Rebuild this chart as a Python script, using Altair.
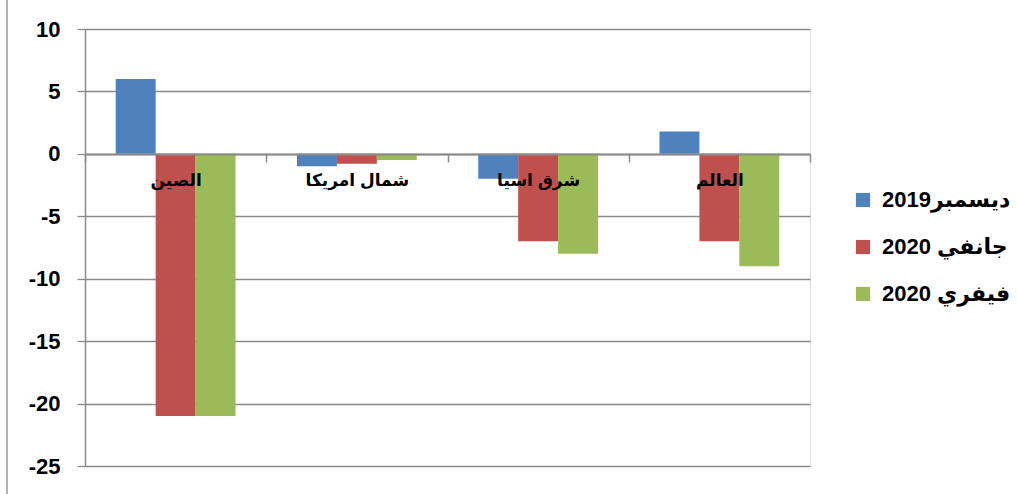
import altair as alt
import pandas as pd

categories = ["الصين", "شمال امريكا", "شرق اسيا", "العالم"]
series = ["ديسمبر2019", "جانفي 2020", "فيفري 2020"]
colors = ["#4F81BD", "#C0504D", "#9BBB59"]
dec2019 = [6.0, -1.0, -2.0, 1.8]
jan2020 = [-21.0, -0.8, -7.0, -7.0]
feb2020 = [-21.0, -0.5, -8.0, -9.0]
y_ticks = [-25, -20, -15, -10, -5, 0, 5, 10]

rows = []
for s, vals in zip(series, [dec2019, jan2020, feb2020]):
    for c, v in zip(categories, vals):
        rows.append({"cat": c, "series": s, "value": v})
df = pd.DataFrame(rows)

FONT = "Arial, Liberation Sans, DejaVu Sans"
GRID = "#8a8a8a"

bars = alt.Chart(df).mark_bar().encode(
    x=alt.X(
        "cat:N",
        sort=categories,
        scale=alt.Scale(paddingInner=0, paddingOuter=0),
        axis=alt.Axis(
            title=None,
            orient="bottom",
            offset=-312,
            labelAngle=0,
            tickBand="extent",
            tickSize=8,
            tickColor=GRID,
            tickWidth=1.5,
            domainColor=GRID,
            domainWidth=2,
            labelFont=FONT,
            labelFontSize=17,
            labelFontWeight=700,
            labelColor="black",
            labelPadding=10,
            zindex=1,
        ),
    ),
    xOffset=alt.XOffset(
        "series:N", sort=series, scale=alt.Scale(paddingInner=0, paddingOuter=0.77)
    ),
    y=alt.Y(
        "value:Q",
        scale=alt.Scale(domain=[-25, 10], nice=False, zero=False),
        axis=alt.Axis(
            title=None,
            values=y_ticks,
            labelExpr="'' + datum.value",
            grid=True,
            gridColor=GRID,
            gridWidth=1.3,
            tickSize=8,
            tickColor=GRID,
            tickWidth=1.3,
            domainColor=GRID,
            domainWidth=1.5,
            labelFont=FONT,
            labelFontSize=22,
            labelFontWeight=700,
            labelColor="black",
            labelPadding=17,
        ),
    ),
    color=alt.Color(
        "series:N",
        sort=series,
        scale=alt.Scale(domain=series, range=colors),
        legend=alt.Legend(
            title=None,
            orient="none",
            legendX=767,
            legendY=160,
            symbolType="square",
            symbolSize=200,
            symbolStrokeWidth=0,
            labelFont=FONT,
            labelFontSize=22,
            labelFontWeight=700,
            labelColor="black",
            labelOffset=8,
            rowPadding=25,
            labelLimit=300,
        ),
    ),
)

border = alt.Chart(pd.DataFrame({"a": [0]})).mark_rule(color="#999", strokeWidth=1.5, clip=False).encode(
    x=alt.value(-78), y=alt.value(-29), y2=alt.value(465)
)

chart = alt.layer(bars, border).properties(
    width=725,
    height=437,
    autosize=alt.AutoSizeParams(type="none"),
    padding={"left": 85, "top": 29, "right": 207, "bottom": 28},
).configure_view(stroke=None).configure(background="white")

chart.save("out.html", embed_options={"renderer": "svg", "actions": False})
